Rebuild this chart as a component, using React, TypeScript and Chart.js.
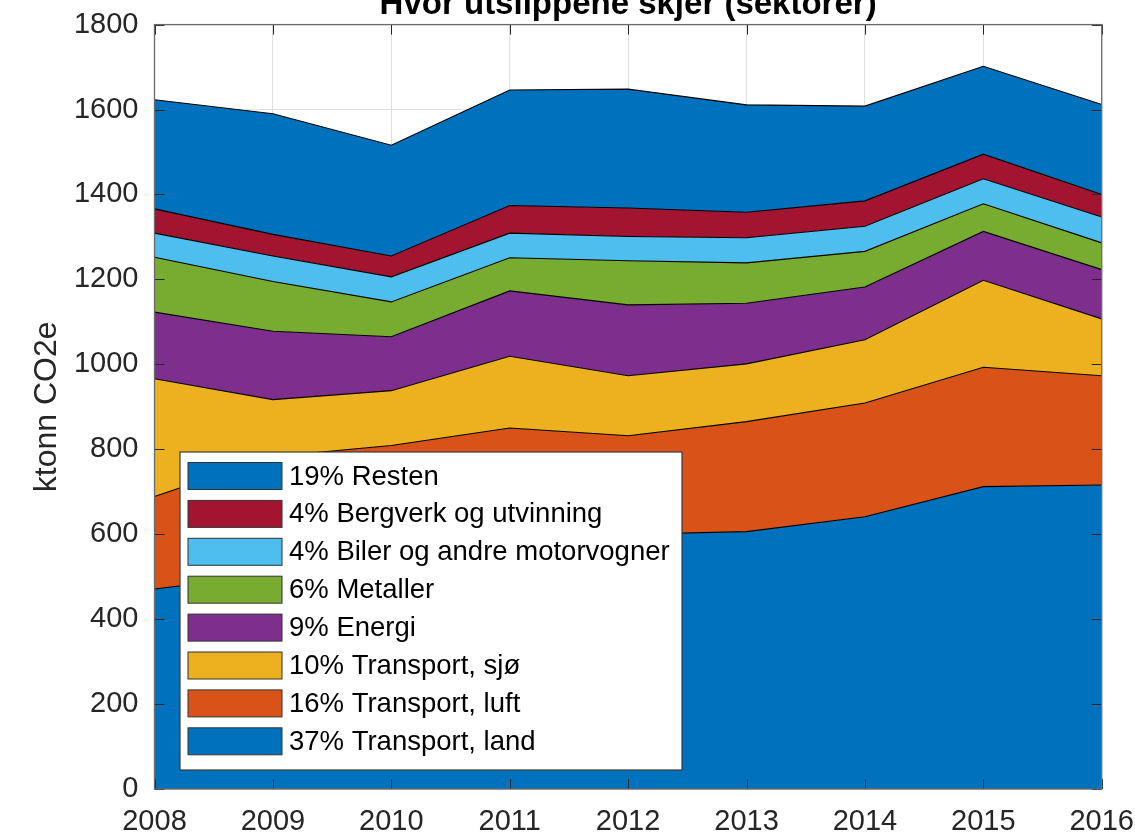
import React, { useEffect, useRef } from 'react';
import { Chart, registerables } from 'chart.js';

Chart.register(...registerables);

const FONT = '"Liberation Sans", Arial, Helvetica, sans-serif';

const years = ['2008', '2009', '2010', '2011', '2012', '2013', '2014', '2015', '2016'];

// Series values (ktonn CO2e), bottom of the stack first
const transportLand = [471, 505, 545, 585, 600, 606, 641, 712, 716];
const transportLuft = [218, 278, 264, 265, 232, 259, 268, 281, 257];
const transportSjo = [277, 134, 129, 169, 141, 136, 149, 205, 134];
const energi = [157, 161, 127, 154, 167, 143, 124, 115, 116];
const metaller = [129, 117, 82, 78, 104, 95, 84, 65, 63];
const biler = [57, 60, 59, 58, 57, 59, 59, 59, 61];
const bergverk = [57, 51, 49, 65, 67, 60, 60, 58, 53];
const resten = [257, 284, 261, 272, 280, 253, 223, 207, 212];

const seriesLabels = [
  '37% Transport, land',
  '16% Transport, luft',
  '10% Transport, sjø',
  '9% Energi',
  '6% Metaller',
  '4% Biler og andre motorvogner',
  '4% Bergverk og utvinning',
  '19% Resten',
];
const seriesValues = [transportLand, transportLuft, transportSjo, energi, metaller, biler, bergverk, resten];
const seriesColors = ['#0072BD', '#D95319', '#EDB120', '#7E2F8E', '#77AC30', '#4DBEEE', '#A2142F', '#0072BD'];

const yTicks = [0, 200, 400, 600, 800, 1000, 1200, 1400, 1600, 1800];

const matlabPlugin = {
  id: 'matlabAxes',
  afterDraw(chart: any) {
    const { ctx, chartArea: a, scales } = chart;
    const xs = scales.x;
    const ys = scales.y;
    ctx.save();
    // inward tick marks on all four sides
    ctx.strokeStyle = '#262626';
    ctx.lineWidth = 1;
    ctx.beginPath();
    for (let i = 0; i < years.length; i++) {
      const px = Math.round(xs.getPixelForTick(i)) + 0.5;
      ctx.moveTo(px, a.bottom);
      ctx.lineTo(px, a.bottom - 10);
      ctx.moveTo(px, a.top);
      ctx.lineTo(px, a.top + 10);
    }
    for (const v of yTicks) {
      const py = Math.round(ys.getPixelForValue(v)) + 0.5;
      ctx.moveTo(a.left, py);
      ctx.lineTo(a.left + 10, py);
      ctx.moveTo(a.right, py);
      ctx.lineTo(a.right - 10, py);
    }
    ctx.stroke();
    // axes box
    ctx.strokeStyle = '#6a6a6a';
    ctx.lineWidth = 1.3;
    ctx.strokeRect(a.left, a.top, a.right - a.left, a.bottom - a.top);

    // legend inside the axes, reversed order
    const boxLeft = a.left + 25.5;
    const boxRight = boxLeft + 502;
    const boxBottom = a.bottom - 19;
    const boxTop = boxBottom - 318;
    ctx.fillStyle = '#ffffff';
    ctx.fillRect(boxLeft, boxTop, boxRight - boxLeft, boxBottom - boxTop);
    ctx.strokeStyle = '#3a3a3a';
    ctx.lineWidth = 1.2;
    ctx.strokeRect(boxLeft, boxTop, boxRight - boxLeft, boxBottom - boxTop);
    const ds = chart.data.datasets;
    ctx.font = `27.5px ${FONT}`;
    ctx.textBaseline = 'middle';
    ctx.textAlign = 'left';
    for (let k = 0; k < ds.length; k++) {
      const d = ds[ds.length - 1 - k];
      const top = boxTop + 10.5 + k * 37.9;
      ctx.fillStyle = d.backgroundColor;
      ctx.fillRect(boxLeft + 8, top, 94, 27);
      ctx.strokeStyle = '#333333';
      ctx.lineWidth = 1;
      ctx.strokeRect(boxLeft + 8, top, 94, 27);
      ctx.fillStyle = '#000000';
      ctx.fillText(d.label, boxLeft + 109, top + 14.5);
    }
    ctx.restore();
  },
};

const CANVAS_W = 1150;
const CANVAS_H = 857;

export default function App() {
  const ref = useRef<HTMLCanvasElement>(null);
  useEffect(() => {
    document.body.style.margin = '0';
    const datasets = seriesValues.map((vals, i) => ({
      label: seriesLabels[i],
      data: vals,
      backgroundColor: seriesColors[i],
      borderColor: '#000000',
      borderWidth: 1.1,
      pointRadius: 0,
      pointHoverRadius: 0,
      tension: 0,
      fill: i === 0 ? 'origin' : '-1',
    }));
    const chart = new Chart(ref.current as HTMLCanvasElement, {
      type: 'line',
      data: { labels: years, datasets },
      options: {
        responsive: false,
        animation: false,
        devicePixelRatio: 1,
        layout: { padding: { left: 0, right: 0, top: 0, bottom: 0 } },
        plugins: {
          legend: { display: false },
          tooltip: { enabled: false },
          title: {
            display: true,
            text: 'Hvor utslippene skjer (sektorer)',
            fullSize: false,
            color: '#000000',
            font: { size: 33, weight: 'bold', family: FONT, lineHeight: 1.2 },
            padding: { top: 6, bottom: 0 },
          },
        },
        scales: {
          x: {
            type: 'category',
            offset: false,
            grid: { color: '#dfdfdf', drawTicks: false, offset: false },
            border: { display: false },
            ticks: { color: '#262626', font: { size: 29, family: FONT }, padding: 16, maxRotation: 0, autoSkip: false },
            afterFit(s: any) { s.height = 47; },
          },
          y: {
            stacked: true,
            min: 0,
            max: 1800,
            grid: { color: '#dfdfdf', drawTicks: false },
            border: { display: false },
            ticks: {
              stepSize: 200,
              color: '#262626',
              font: { size: 29, family: FONT },
              padding: 16,
              callback: (v: any) => String(v),
            },
            title: {
              display: true,
              text: 'ktonn CO2e',
              color: '#262626',
              font: { size: 32, family: FONT, lineHeight: 1.2 },
              padding: { top: 28, bottom: 0 },
            },
            afterFit(s: any) { s.width = 154.5; },
          },
        },
      },
      plugins: [matlabPlugin],
    } as any);
    return () => chart.destroy();
  }, []);
  return (
    <div style={{ width: 1135, height: 836, overflow: 'hidden', position: 'relative', background: '#ffffff' }}>
      <div style={{ position: 'absolute', left: 0, top: -21, width: CANVAS_W, height: CANVAS_H }}>
        <canvas ref={ref} width={CANVAS_W} height={CANVAS_H} style={{ display: 'block', width: CANVAS_W, height: CANVAS_H }} />
      </div>
    </div>
  );
}
